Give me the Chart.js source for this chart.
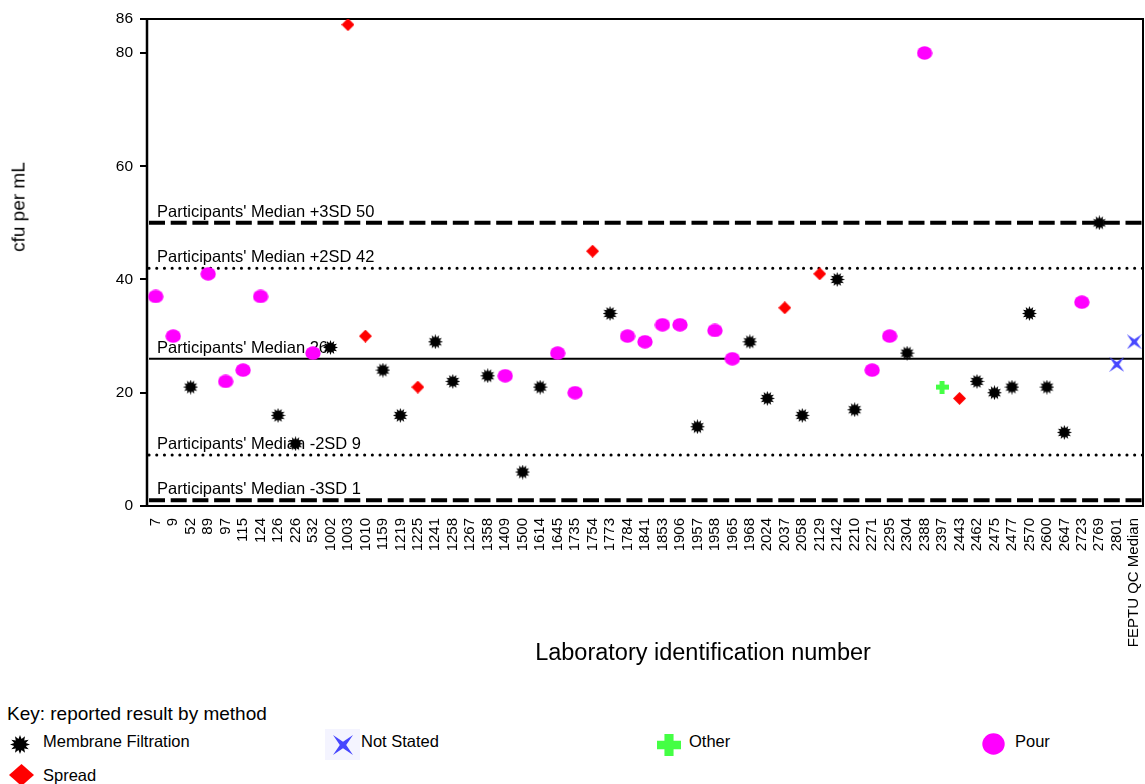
<!DOCTYPE html>
<html><head><meta charset="utf-8">
<script src="https://cdn.jsdelivr.net/npm/chart.js@4"></script>
<style>
body{margin:0;background:#fff;font-family:"Liberation Sans",Arial,sans-serif;color:#000}
#wrap{position:relative;width:1145px;height:784px;overflow:hidden;background:#fff}
#c{position:absolute;left:0;top:0}
.t{position:absolute;white-space:nowrap;line-height:1}
.mk{position:absolute}
</style></head><body>
<div id="wrap">
<canvas id="c" width="1151" height="690"></canvas>
<div class="t" style="left:18px;top:207px;font-size:19px;transform:translate(-50%,-50%) rotate(-90deg)">cfu per mL</div>
<div class="t" style="left:703px;top:653px;font-size:23.5px;transform:translate(-50%,-50%)">Laboratory identification number</div>
<div class="t" style="left:7px;top:713px;font-size:19px;transform:translateY(-50%)">Key: reported result by method</div>
<div id="legend"></div>
</div>
<script>
// ---- data ----
const labs = ["7","9","52","89","97","115","124","126","226","532","1002","1003","1010","1159","1219","1225","1241","1258","1267","1358","1409","1500","1614","1645","1735","1754","1773","1784","1841","1853","1906","1957","1958","1965","1968","2024","2037","2058","2129","2142","2210","2271","2295","2304","2388","2397","2443","2462","2475","2477","2570","2600","2647","2723","2769","2801","FEPTU QC Median"];
const results = [37,30,21,41,22,24,37,16,11,27,28,85,30,24,16,21,29,22,null,23,23,6,21,27,20,45,34,30,29,32,32,14,31,26,29,19,35,16,41,40,17,24,30,27,80,21,19,22,20,21,34,21,13,36,50,25,29];
const methods = ["Pour","Pour","Membrane Filtration","Pour","Pour","Pour","Pour","Membrane Filtration","Membrane Filtration","Pour","Membrane Filtration","Spread","Spread","Membrane Filtration","Membrane Filtration","Spread","Membrane Filtration","Membrane Filtration",null,"Membrane Filtration","Pour","Membrane Filtration","Membrane Filtration","Pour","Pour","Spread","Membrane Filtration","Pour","Pour","Pour","Pour","Membrane Filtration","Pour","Pour","Membrane Filtration","Membrane Filtration","Spread","Membrane Filtration","Spread","Membrane Filtration","Membrane Filtration","Pour","Pour","Membrane Filtration","Pour","Other","Spread","Membrane Filtration","Membrane Filtration","Membrane Filtration","Membrane Filtration","Membrane Filtration","Membrane Filtration","Pour","Membrane Filtration","Not Stated","Not Stated"];
const methodNames = ["Membrane Filtration","Not Stated","Other","Pour","Spread"];
const refValues = [50,42,26,9,1];
const refLabels = ["Participants' Median +3SD 50","Participants' Median +2SD 42","Participants' Median 26","Participants' Median -2SD 9","Participants' Median -3SD 1"];
const yTicks = [0,20,40,60,80,86];

// ---- marker drawing ----
function makeMarker(kind,w,h){
  const cv=document.createElement('canvas');cv.width=w;cv.height=h;
  const c=cv.getContext('2d');const cx=w/2,cy=h/2,rx=w/2,ry=h/2;
  c.beginPath();
  if(kind==='Membrane Filtration'){
    c.fillStyle='#000';const n=12;
    for(let i=0;i<2*n;i++){const a=Math.PI*i/n-Math.PI/2;const f=i%2?0.6:1;
      const x=cx+Math.cos(a)*rx*f,y=cy+Math.sin(a)*ry*f;i?c.lineTo(x,y):c.moveTo(x,y);}
    c.closePath();c.fill();
  }else if(kind==='Pour'){
    c.fillStyle='#ff00ff';c.ellipse(cx,cy,rx-0.3,ry-0.3,0,0,Math.PI*2);c.fill();
  }else if(kind==='Spread'){
    c.fillStyle='#ff0000';c.moveTo(cx,0);c.lineTo(w,cy);c.lineTo(cx,h);c.lineTo(0,cy);c.closePath();c.fill();
  }else if(kind==='Other'){
    c.fillStyle='#44ff44';const tw=w*0.38,th=h*0.38;
    c.rect(cx-tw/2,0,tw,h);c.rect(0,cy-th/2,w,th);c.fill();
  }else if(kind==='Not Stated'){
    c.fillStyle='#4747ff';
    const pts=[[0,0],[cx,cy-ry*0.32],[w,0],[cx+rx*0.32,cy],[w,h],[cx,cy+ry*0.32],[0,h],[cx-rx*0.32,cy]];
    c.moveTo(pts[0][0],pts[0][1]);
    for(let i=1;i<=8;i++){const p=pts[i%8];c.lineTo(p[0],p[1]);}
    c.closePath();c.fill();
  }
  return cv;
}
const chartMarkers={
  'Membrane Filtration':makeMarker('Membrane Filtration',15,15),
  'Not Stated':makeMarker('Not Stated',15,15),
  'Other':makeMarker('Other',13,13),
  'Pour':makeMarker('Pour',16,14),
  'Spread':makeMarker('Spread',13,13)
};

// ---- legend (HTML) ----
const legendSpots=[
  {name:'Membrane Filtration',mx:20,my:744,mw:20,mh:19,tx:43,ty:741},
  {name:'Not Stated',mx:343,my:745,mw:20,mh:20,tx:361,ty:741,bg:true},
  {name:'Other',mx:669,my:745,mw:24,mh:22,tx:689,ty:741},
  {name:'Pour',mx:993.5,my:744,mw:23,mh:22,tx:1015,ty:741},
  {name:'Spread',mx:21,my:775,mw:25,mh:22,tx:43,ty:775}
];
const lg=document.getElementById('legend');
legendSpots.forEach(s=>{
  if(s.bg){const b=document.createElement('div');b.className='mk';
    b.style.cssText=`left:${s.mx-18}px;top:${s.my-16}px;width:35px;height:31px;background:#f4f4ff`;lg.appendChild(b);}
  const m=makeMarker(s.name,s.mw,s.mh);m.className='mk';
  m.style.left=(s.mx-s.mw/2)+'px';m.style.top=(s.my-s.mh/2)+'px';lg.appendChild(m);
  const t=document.createElement('div');t.className='t';t.textContent=s.name;
  t.style.cssText=`left:${s.tx}px;top:${s.ty}px;font-size:16.5px;transform:translateY(-50%)`;
  lg.appendChild(t);
});

// ---- reference lines plugin ----
const refPlugin={
  id:'refs',
  beforeDatasetsDraw(chart){
    const {ctx,chartArea:a,scales:{y}}=chart;
    ctx.save();
    refLabels.forEach((lab,i)=>{
      const py=y.getPixelForValue(refValues[i]);
      ctx.beginPath();ctx.strokeStyle='#000';
      if(lab.includes('3SD')){ctx.lineWidth=4;ctx.lineCap='butt';ctx.setLineDash([16,5.7]);}
      else if(lab.includes('2SD')){ctx.lineWidth=3;ctx.lineCap='round';ctx.setLineDash([0.1,7.6]);}
      else {ctx.lineWidth=2;ctx.lineCap='butt';ctx.setLineDash([]);}
      ctx.moveTo(a.left+2,py);ctx.lineTo(a.right,py);ctx.stroke();
      ctx.setLineDash([]);
      ctx.fillStyle='#000';ctx.font='16.5px "Liberation Sans", Arial, sans-serif';
      ctx.textBaseline='alphabetic';ctx.textAlign='left';
      ctx.fillText(lab,a.left+10,py-6);
    });
    ctx.lineCap='butt';ctx.lineWidth=2;ctx.strokeStyle='#000';
    ctx.strokeRect(a.left,a.top,a.width,a.height);
    ctx.beginPath();ctx.lineWidth=2.5;ctx.moveTo(a.left,a.top);ctx.lineTo(a.left,a.bottom+1);ctx.stroke();
    ctx.restore();
  }
};

const datasets=methodNames.map(name=>({
  label:name,
  data:results.map((v,i)=>methods[i]===name?v:null),
  showLine:false,
  pointStyle:chartMarkers[name],
  pointRadius:7,
  pointHoverRadius:7
}));

new Chart(document.getElementById('c'),{
  type:'line',
  data:{labels:labs,datasets},
  options:{
    responsive:false,animation:false,devicePixelRatio:1,
    layout:{padding:{left:0,top:19,right:0,bottom:0}},
    plugins:{legend:{display:false},tooltip:{enabled:false}},
    scales:{
      x:{type:'category',offset:true,
        grid:{display:false},border:{display:false},
        ticks:{autoSkip:false,maxRotation:90,minRotation:90,padding:4,color:'#000',
          font:{family:'"Liberation Sans", Arial, sans-serif',size:15}},
        afterFit(s){s.height=184;s.paddingLeft=0;s.paddingRight=0;}
      },
      y:{type:'linear',min:0,max:86,
        afterBuildTicks(s){s.ticks=yTicks.map(v=>({value:v}));},
        grid:{drawOnChartArea:false,drawTicks:true,tickLength:7,lineWidth:2,color:'#000',tickColor:'#000'},
        border:{display:false},
        ticks:{padding:7,color:'#000',font:{family:'"Liberation Sans", Arial, sans-serif',size:15.5}},
        afterFit(s){s.width=147;}
      }
    }
  },
  plugins:[refPlugin]
});
</script>
</body></html>
